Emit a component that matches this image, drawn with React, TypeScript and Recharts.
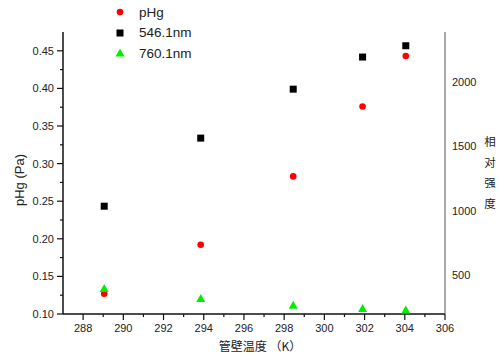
import React from 'react';
import { ScatterChart, Scatter, XAxis, YAxis, Legend } from 'recharts';

const temps = [289.05, 293.85, 298.45, 301.9, 304.05];
const pHgValues = [0.127, 0.192, 0.283, 0.376, 0.443];
const int546 = [1034, 1564, 1945, 2195, 2283];
const int760 = [393, 316, 263, 238, 227];

const xMajor = [288, 290, 292, 294, 296, 298, 300, 302, 304, 306];
const xMinor = [289, 291, 293, 295, 297, 299, 301, 303, 305];
const yMajor = [0.1, 0.15, 0.2, 0.25, 0.3, 0.35, 0.4, 0.45];
const yMinor = [0.125, 0.175, 0.225, 0.275, 0.325, 0.375, 0.425];
const rMajor = [500, 1000, 1500, 2000];

const seriesNames = ['pHg', '546.1nm', '760.1nm'];
const seriesColors = ['#ff0000', '#000000', '#00ee00'];

const FONT = '"Liberation Sans", Arial, sans-serif';

const pHgData = temps.map((t, i) => ({ t, v: pHgValues[i] }));
const d546 = temps.map((t, i) => ({ t, v: int546[i] }));
const d760 = temps.map((t, i) => ({ t, v: int760[i] }));

const isIn = (arr: number[], v: number) => arr.some((a) => Math.abs(a - v) < 1e-6);

const XTick = (props: any) => {
  const { x, y, payload } = props;
  const major = isIn(xMajor, payload.value);
  return (
    <g>
      <line x1={x} x2={x} y1={y} y2={y + (major ? 6 : 3)} stroke="#111" strokeWidth={1.2} />
      {major && (
        <text x={x} y={y + 18} textAnchor="middle" fontSize={11} fontFamily={FONT} fill="#222">
          {payload.value}
        </text>
      )}
    </g>
  );
};

const YLeftTick = (props: any) => {
  const { x, y, payload } = props;
  const major = isIn(yMajor, payload.value);
  return (
    <g>
      <line x1={x} x2={x - (major ? 6 : 3)} y1={y} y2={y} stroke="#111" strokeWidth={1.2} />
      {major && (
        <text x={x - 9} y={y + 4} textAnchor="end" fontSize={11} fontFamily={FONT} fill="#222">
          {Number(payload.value).toFixed(2)}
        </text>
      )}
    </g>
  );
};

const YRightTick = (props: any) => {
  const { x, y, payload } = props;
  return (
    <text x={x + 7} y={y + 4} textAnchor="start" fontSize={11} fontFamily={FONT} fill="#222">
      {payload.value}
    </text>
  );
};

const Circle = (props: any) => {
  const { cx, cy } = props;
  return <circle cx={cx} cy={cy} r={3.3} fill={seriesColors[0]} />;
};
const Square = (props: any) => {
  const { cx, cy } = props;
  return <rect x={cx - 3.5} y={cy - 3.5} width={7} height={7} fill={seriesColors[1]} />;
};
const Triangle = (props: any) => {
  const { cx, cy } = props;
  return <polygon points={`${cx},${cy - 4.5} ${cx + 4.5},${cy + 3.5} ${cx - 4.5},${cy + 3.5}`} fill={seriesColors[2]} />;
};

const LegendIcon = ({ i }: { i: number }) => (
  <svg width={12} height={12} style={{ display: 'block' }}>
    {i === 0 && <circle cx={6} cy={6} r={3.3} fill={seriesColors[0]} />}
    {i === 1 && <rect x={2.5} y={2.5} width={7} height={7} fill={seriesColors[1]} />}
    {i === 2 && <polygon points="6,1.5 10.5,9.5 1.5,9.5" fill={seriesColors[2]} />}
  </svg>
);

const LegendContent = () => (
  <div style={{ fontFamily: FONT, fontSize: 13.5, color: '#222' }}>
    {seriesNames.map((n, i) => (
      <div key={n} style={{ display: 'flex', alignItems: 'center', height: 20.5 }}>
        <div style={{ width: 12, marginRight: 13 }}>
          <LegendIcon i={i} />
        </div>
        <span>{n}</span>
      </div>
    ))}
  </div>
);

const leftLabel = (props: any) => {
  const vb = props.viewBox;
  const cx = vb.x + 19;
  const cy = vb.y + vb.height / 2 + 7;
  return (
    <text x={cx} y={cy} transform={`rotate(-90 ${cx} ${cy})`} textAnchor="middle" dominantBaseline="central" fontSize={13} fontFamily={FONT} fill="#222">
      pHg (Pa)
    </text>
  );
};

const rightChars = ['相', '对', '强', '度'];
const rightLabel = (props: any) => {
  const vb = props.viewBox;
  const x = vb.x + 45;
  return (
    <text fontSize={11.5} fontFamily='"Noto Sans CJK SC", sans-serif' fill="#222" textAnchor="middle">
      {rightChars.map((c, i) => (
        <tspan key={c} x={x} y={146 + i * 20.5}>
          {c}
        </tspan>
      ))}
    </text>
  );
};

const bottomLabel = (props: any) => {
  const vb = props.viewBox;
  const cx = vb.x + vb.width / 2 + 6;
  return (
    <text x={cx} y={351} textAnchor="middle" fontSize={12} fontFamily='"Noto Sans CJK SC", sans-serif' fill="#222">
      管壁温度 （K）
    </text>
  );
};

export default function App() {
  return (
    <div style={{ position: 'absolute', left: 0, top: 0, width: 500, height: 358, background: '#fff' }}>
      <ScatterChart width={500} height={358} margin={{ top: 32, right: 0, bottom: 0, left: 0 }}>
        <XAxis
          type="number"
          dataKey="t"
          domain={[287, 306]}
          ticks={[...xMajor, ...xMinor].sort((a, b) => a - b)}
          allowDataOverflow
          height={44}
          tickSize={0}
          tickMargin={0}
          tickLine={false}
          tick={<XTick />}
          interval={0}
          axisLine={{ stroke: '#111', strokeWidth: 1.5 }}
          label={bottomLabel}
        />
        <YAxis
          yAxisId="left"
          type="number"
          dataKey="v"
          domain={[0.1, 0.475]}
          ticks={[...yMajor, ...yMinor].sort((a, b) => a - b)}
          allowDataOverflow
          width={63}
          tickSize={0}
          tickMargin={0}
          tickLine={false}
          tick={<YLeftTick />}
          interval={0}
          axisLine={{ stroke: '#111', strokeWidth: 1.5 }}
          label={leftLabel}
        />
        <YAxis
          yAxisId="right"
          orientation="right"
          type="number"
          dataKey="v"
          domain={[195, 2390]}
          ticks={rMajor}
          allowDataOverflow
          width={55}
          tickSize={0}
          tickMargin={0}
          tickLine={false}
          tick={<YRightTick />}
          interval={0}
          axisLine={{ stroke: '#555', strokeWidth: 1 }}
          label={rightLabel}
        />
        <Legend
          layout="vertical"
          align="center"
          verticalAlign="middle"
          content={<LegendContent />}
          wrapperStyle={{ position: 'absolute', left: 114, top: 2, width: 120 }}
        />
        <Scatter name={seriesNames[0]} data={pHgData} yAxisId="left" fill={seriesColors[0]} shape={Circle} isAnimationActive={false} />
        <Scatter name={seriesNames[1]} data={d546} yAxisId="right" fill={seriesColors[1]} shape={Square} isAnimationActive={false} />
        <Scatter name={seriesNames[2]} data={d760} yAxisId="right" fill={seriesColors[2]} shape={Triangle} isAnimationActive={false} />
      </ScatterChart>
    </div>
  );
}
